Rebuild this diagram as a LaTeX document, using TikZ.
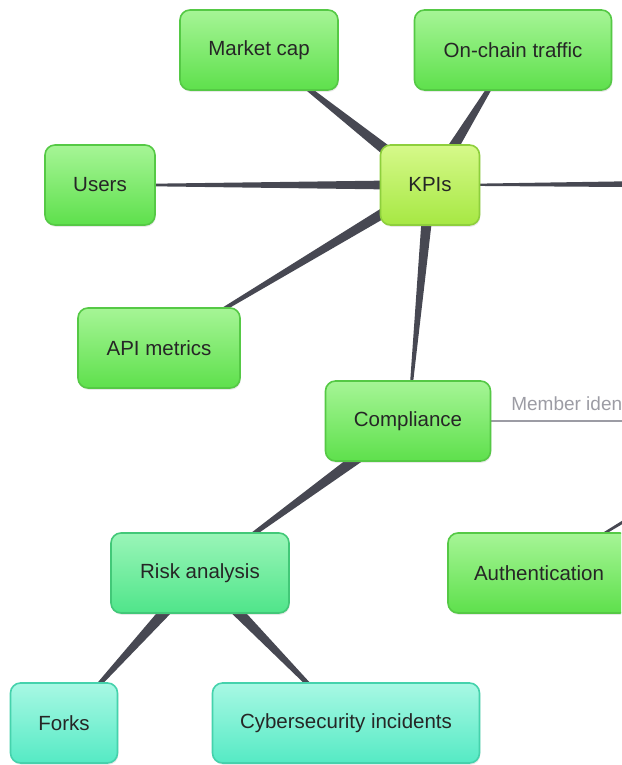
\documentclass[tikz,border=0pt]{standalone}
\usepackage{fontspec}
\setmainfont{Liberation Sans}
\usetikzlibrary{calc,backgrounds,shadows}
\definecolor{leafTop}{HTML}{A6F596}
\definecolor{leafBot}{HTML}{5EE04C}
\definecolor{leafLine}{HTML}{55C945}
\definecolor{kpiTop}{HTML}{D6F98A}
\definecolor{kpiBot}{HTML}{A6E843}
\definecolor{kpiLine}{HTML}{8ECF3C}
\definecolor{riskTop}{HTML}{9AF5B8}
\definecolor{riskBot}{HTML}{4FE58A}
\definecolor{riskLine}{HTML}{42C878}
\definecolor{aquaTop}{HTML}{A8F8E4}
\definecolor{aquaBot}{HTML}{55EAC4}
\definecolor{aquaLine}{HTML}{45D2AC}
\definecolor{linkGray}{HTML}{474852}
\definecolor{memberGray}{HTML}{9C9CA4}
\tikzset{
    x=1pt,
    y=-1pt,
    topic/.style = {
        shape=rectangle,
        rounded corners=10pt,
        minimum height=80pt,
        inner sep=0pt,
        line width=1.6pt,
        draw=leafLine,
        top color=leafTop,
        bottom color=leafBot,
        text=black!85,
        font=\fontsize{20.5}{24}\selectfont,
        drop shadow={opacity=0.18, shadow xshift=0.8pt, shadow yshift=-1.8pt}
    },
    kpi/.style = {
        topic,
        draw=kpiLine,
        top color=kpiTop,
        bottom color=kpiBot
    },
    risk/.style = {
        topic,
        draw=riskLine,
        top color=riskTop,
        bottom color=riskBot
    },
    aqua/.style = {
        topic,
        draw=aquaLine,
        top color=aquaTop,
        bottom color=aquaBot
    },
    link/.style = {
        fill=linkGray
    },
    member/.style = {
        draw=memberGray,
        line width=2pt
    },
    memberlabel/.style = {
        text=memberGray,
        inner sep=0pt,
        font=\fontsize{19}{22}\selectfont
    }
}
% tapered connector: wide at #1, thin at #2
\newcommand{\taper}[3]{%
    \fill[link] ($(#1)!#3!90:(#2)$) -- ($(#2)!0.6pt!-90:(#1)$)
        -- ($(#2)!0.6pt!90:(#1)$) -- ($(#1)!#3!-90:(#2)$) -- cycle;}

\begin{document}
\begin{tikzpicture}
    \useasboundingbox (0,0) rectangle (621,765);
    \clip (0,0) rectangle (621,765);

    \coordinate (hub) at (900,183);
    \coordinate (identity) at (800,421);
    \coordinate (access) at (720,463);

    \node[topic, minimum width=158pt] (marketcap) at (259,50) {Market cap};
    \node[topic, minimum width=197pt] (onchain) at (513,50) {On-chain traffic};
    \node[kpi, minimum width=99pt] (kpis) at (430,185) {KPIs};
    \node[topic, minimum width=110pt] (users) at (100,185) {Users};
    \node[topic, minimum width=162pt] (api) at (159,348) {API metrics};
    \node[topic, minimum width=165pt] (compliance) at (408,421) {Compliance};
    \node[topic, minimum width=182pt] (auth) at (539,573) {Authentication};
    \node[risk, minimum width=178pt] (risk) at (200,573) {Risk analysis};
    \node[aqua, minimum width=107pt] (forks) at (64,723) {Forks};
    \node[aqua, minimum width=267pt] (cyber) at (346,723) {Cybersecurity incidents};

    \begin{pgfonlayer}{background}
        \taper{hub}{kpis}{6pt}
        \taper{kpis}{marketcap}{7pt}
        \taper{kpis}{onchain}{7pt}
        \taper{kpis}{users}{5pt}
        \taper{kpis}{api}{6pt}
        \taper{kpis}{compliance}{6pt}
        \taper{compliance}{risk}{7pt}
        \taper{risk}{forks}{7pt}
        \taper{risk}{cyber}{7pt}
        \taper{access}{auth}{2.5pt}
        \path[draw, member] (compliance.east) -- node[memberlabel, pos=0, anchor=base west, xshift=19pt, yshift=11pt] {Member iden} (identity);
    \end{pgfonlayer}
\end{tikzpicture}
\end{document}
